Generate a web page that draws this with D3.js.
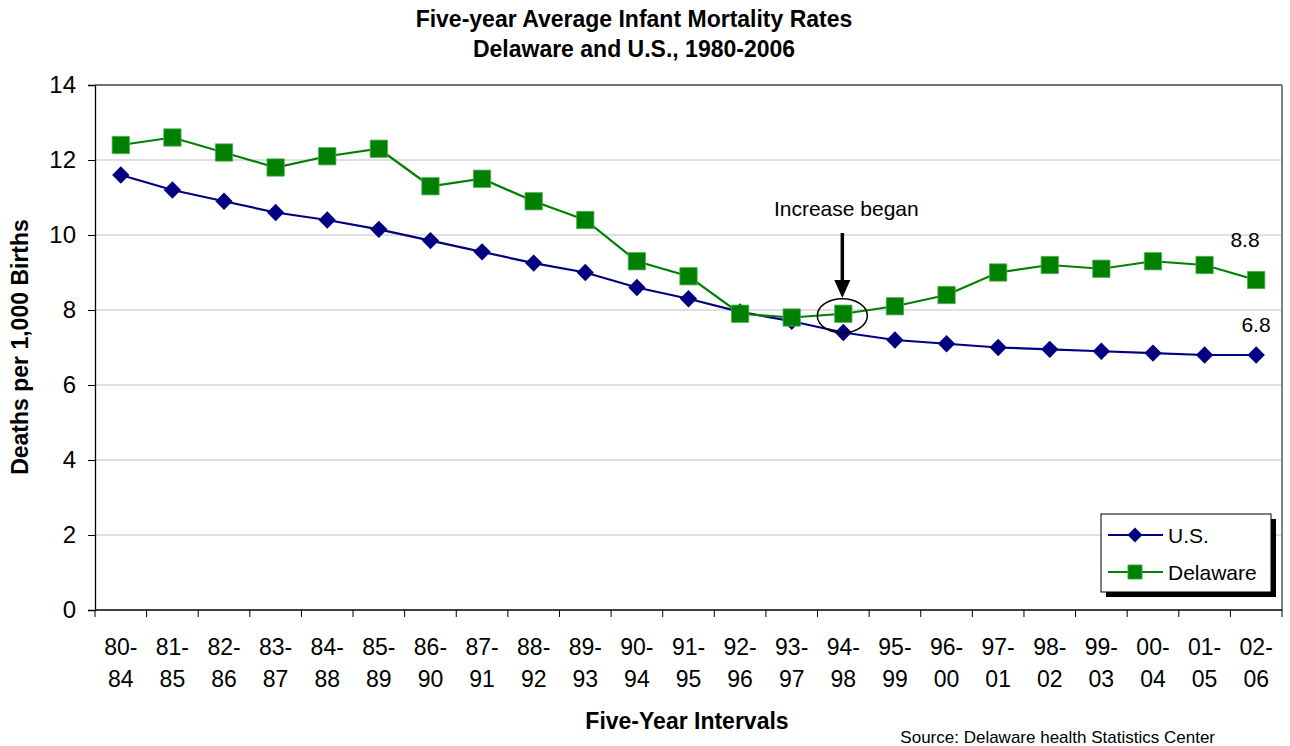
<!DOCTYPE html>
<html>
<head>
<meta charset="utf-8">
<script src="https://cdn.jsdelivr.net/npm/d3@7"></script>
<style>
  html, body { margin: 0; padding: 0; background: #fff; }
  svg { display: block; font-family: "Liberation Sans", Arial, sans-serif; }
</style>
</head>
<body>
<svg id="chart" width="1290" height="746"></svg>
<script>
// ---------- data ----------
const categories = ["80-84","81-85","82-86","83-87","84-88","85-89","86-90","87-91","88-92","89-93",
  "90-94","91-95","92-96","93-97","94-98","95-99","96-00","97-01","98-02","99-03","00-04","01-05","02-06"];
const usValues = [11.6, 11.2, 10.9, 10.6, 10.4, 10.15, 9.85, 9.55, 9.25, 9.0,
  8.6, 8.3, 7.95, 7.7, 7.4, 7.2, 7.1, 7.0, 6.95, 6.9, 6.85, 6.8, 6.8];
const delawareValues = [12.4, 12.6, 12.2, 11.8, 12.1, 12.3, 11.3, 11.5, 10.9, 10.4,
  9.3, 8.9, 7.9, 7.8, 7.9, 8.1, 8.4, 9.0, 9.2, 9.1, 9.3, 9.2, 8.8];
const yTicks = [0, 2, 4, 6, 8, 10, 12, 14];
const seriesNames = ["U.S.", "Delaware"];
const titleLines = ["Five-year Average Infant Mortality Rates", "Delaware and U.S., 1980-2006"];
const annotationText = "Increase began";
const annotationCategory = "94-98";
const endLabels = ["8.8", "6.8"];

// ---------- layout ----------
const svg = d3.select("#chart");
const plot = { left: 95, right: 1282, top: 85, bottom: 610 };
const navy = "#000080", green = "#008000";

const x = d3.scaleBand().domain(categories).range([plot.left, plot.right]).padding(0);
const y = d3.scaleLinear().domain([0, 14]).range([plot.bottom, plot.top]);
const cx = c => x(c) + x.bandwidth() / 2;

// title
svg.append("g").selectAll("text").data(titleLines).join("text")
  .attr("x", 634).attr("y", (d, i) => 27 + i * 30)
  .attr("text-anchor", "middle").attr("font-size", 23).attr("font-weight", "bold")
  .text(d => d);

// gridlines
svg.append("g").selectAll("line").data(yTicks.filter(t => t > 0 && t < 14)).join("line")
  .attr("x1", plot.left).attr("x2", plot.right)
  .attr("y1", d => y(d)).attr("y2", d => y(d))
  .attr("stroke", "#c0c0c0").attr("stroke-width", 1);

// plot border (top and right)
svg.append("line").attr("x1", plot.left).attr("x2", plot.right).attr("y1", plot.top).attr("y2", plot.top)
  .attr("stroke", "#404040").attr("stroke-width", 1.5);
svg.append("line").attr("x1", plot.right).attr("x2", plot.right).attr("y1", plot.top).attr("y2", plot.bottom)
  .attr("stroke", "#808080").attr("stroke-width", 2);

// y axis
const yAxis = svg.append("g").attr("transform", `translate(${plot.left},0)`)
  .call(d3.axisLeft(y).tickValues(yTicks).tickSize(7).tickPadding(12).tickFormat(d3.format("d")));
yAxis.select(".domain").attr("stroke", "#000").attr("stroke-width", 1.3);
yAxis.selectAll(".tick line").attr("stroke", "#000");
yAxis.selectAll("text").attr("font-size", 24).attr("font-family", "Liberation Sans, Arial, sans-serif").attr("fill", "#000");

// x axis (ticks at category boundaries)
svg.append("line").attr("x1", plot.left).attr("x2", plot.right).attr("y1", plot.bottom).attr("y2", plot.bottom)
  .attr("stroke", "#000").attr("stroke-width", 1.3);
const boundaries = categories.map(c => x(c)).concat([plot.right]);
svg.append("g").selectAll("line").data(boundaries).join("line")
  .attr("x1", d => d).attr("x2", d => d).attr("y1", plot.bottom).attr("y2", plot.bottom + 7)
  .attr("stroke", "#000").attr("stroke-width", 1);
const xl = svg.append("g").selectAll("text").data(categories).join("text")
  .attr("x", d => cx(d)).attr("text-anchor", "middle").attr("font-size", 23);
xl.append("tspan").attr("x", d => cx(d)).attr("y", 655).text(d => d.split("-")[0] + "-");
xl.append("tspan").attr("x", d => cx(d)).attr("y", 687).text(d => d.split("-")[1]);

// axis titles
svg.append("text").attr("x", 687).attr("y", 729).attr("text-anchor", "middle")
  .attr("font-size", 23).attr("font-weight", "bold").text("Five-Year Intervals");
svg.append("text").attr("transform", `translate(28,347) rotate(-90)`).attr("text-anchor", "middle")
  .attr("font-size", 23).attr("font-weight", "bold").text("Deaths per 1,000 Births");
svg.append("text").attr("x", 1215).attr("y", 743).attr("text-anchor", "end")
  .attr("font-size", 17).text("Source:  Delaware health Statistics Center");

// series
const line = d3.line().x((d, i) => cx(categories[i])).y(d => y(d));
svg.append("path").datum(usValues).attr("d", line).attr("fill", "none").attr("stroke", navy).attr("stroke-width", 2.2);
svg.append("path").datum(delawareValues).attr("d", line).attr("fill", "none").attr("stroke", green).attr("stroke-width", 2.2);

svg.append("g").selectAll("path").data(usValues).join("path")
  .attr("d", d3.symbol().type(d3.symbolSquare).size(150)())
  .attr("transform", (d, i) => `translate(${cx(categories[i])},${y(d)}) rotate(45)`)
  .attr("fill", navy);
svg.append("g").selectAll("path").data(delawareValues).join("path")
  .attr("transform", (d, i) => `translate(${cx(categories[i])},${y(d)})`)
  .attr("d", d3.symbol().type(d3.symbolSquare).size(300)()).attr("fill", green)
  .attr("stroke", "#4caf50").attr("stroke-width", 0.8);

// end labels
svg.append("text").attr("x", 1245).attr("y", 247).attr("text-anchor", "middle").attr("font-size", 21)
  .text(endLabels[0]);
svg.append("text").attr("x", 1256).attr("y", 332).attr("text-anchor", "middle").attr("font-size", 21)
  .text(endLabels[1]);

// annotation
const ai = categories.indexOf(annotationCategory);
const ax = cx(annotationCategory) - 1;
svg.append("text").attr("x", ax + 4).attr("y", 216).attr("text-anchor", "middle").attr("font-size", 21)
  .text(annotationText);
svg.append("line").attr("x1", ax).attr("x2", ax).attr("y1", 233).attr("y2", 282)
  .attr("stroke", "#000").attr("stroke-width", 3.5);
svg.append("path").attr("d", `M${ax - 8},280 L${ax + 8},280 L${ax},298 Z`).attr("fill", "#000");
svg.append("ellipse").attr("cx", ax).attr("cy", y(delawareValues[ai]) + 2).attr("rx", 25).attr("ry", 17)
  .attr("fill", "none").attr("stroke", "#000").attr("stroke-width", 1.5);

// legend
const lg = svg.append("g");
lg.append("rect").attr("x", 1106).attr("y", 519).attr("width", 170).attr("height", 78).attr("fill", "#000");
lg.append("rect").attr("x", 1101).attr("y", 514).attr("width", 170).attr("height", 78)
  .attr("fill", "#fff").attr("stroke", "#000").attr("stroke-width", 1);
const legendRows = [
  { name: seriesNames[0], color: navy, y: 535 },
  { name: seriesNames[1], color: green, y: 572 }
];
legendRows.forEach((r, i) => {
  lg.append("line").attr("x1", 1108).attr("x2", 1163).attr("y1", r.y).attr("y2", r.y)
    .attr("stroke", r.color).attr("stroke-width", 2);
  if (i === 0) {
    lg.append("path").attr("transform", `translate(1135,${r.y}) rotate(45)`)
      .attr("d", d3.symbol().type(d3.symbolSquare).size(110)()).attr("fill", r.color);
  } else {
    lg.append("path").attr("transform", `translate(1135,${r.y})`)
      .attr("d", d3.symbol().type(d3.symbolSquare).size(200)()).attr("fill", r.color)
      .attr("stroke", "#4caf50").attr("stroke-width", 0.8);
  }
  lg.append("text").attr("x", 1168).attr("y", r.y + 8).attr("font-size", 21).text(r.name);
});
</script>
</body>
</html>
